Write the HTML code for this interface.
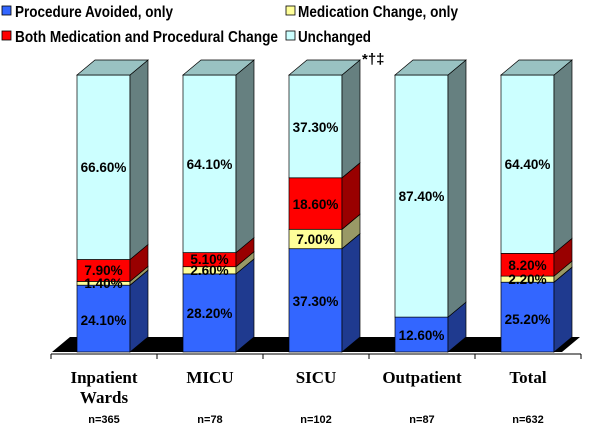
<!DOCTYPE html><html><head><style>body{margin:0;background:#fff}svg{display:block}</style></head><body>
<svg width="600" height="426" xmlns="http://www.w3.org/2000/svg" font-family="Liberation Sans, Arial, sans-serif" font-weight="bold">
<g font-size="16">
<rect x="2" y="6" width="9" height="9" fill="#3366ff" stroke="#000" stroke-width="0.8"/><text x="15" y="17" textLength="158" lengthAdjust="spacingAndGlyphs">Procedure Avoided, only</text>
<rect x="286" y="6" width="9" height="9" fill="#ffff99" stroke="#000" stroke-width="0.8"/><text x="298" y="17" textLength="160" lengthAdjust="spacingAndGlyphs">Medication Change, only</text>
<rect x="2" y="31" width="9" height="9" fill="#ff0000" stroke="#000" stroke-width="0.8"/><text x="15" y="42" textLength="263" lengthAdjust="spacingAndGlyphs">Both Medication and Procedural Change</text>
<rect x="286" y="31" width="9" height="9" fill="#ccffff" stroke="#000" stroke-width="0.8"/><text x="298" y="42" textLength="73" lengthAdjust="spacingAndGlyphs">Unchanged</text>
</g>
<text x="362" y="64" font-size="15">*†‡</text>
<polygon points="52,352 562,352 580,337 70,337" fill="#000"/>
<line x1="51" y1="354" x2="581" y2="354" stroke="#000"/>
<g stroke="#000"><line x1="51" y1="354" x2="51" y2="359"/><line x1="157" y1="354" x2="157" y2="359"/><line x1="263" y1="354" x2="263" y2="359"/><line x1="369" y1="354" x2="369" y2="359"/><line x1="475" y1="354" x2="475" y2="359"/><line x1="581" y1="354" x2="581" y2="359"/></g>
<g stroke="#000" stroke-width="0.7">
<rect x="77" y="285.2" width="53" height="66.8" fill="#3366ff"/><polygon points="130,352 148,337 148,270.2 130,285.2" fill="#1f3a8f"/>
<rect x="77" y="281.4" width="53" height="3.8" fill="#ffff99"/><polygon points="130,285.2 148,270.2 148,266.4 130,281.4" fill="#999966"/>
<rect x="77" y="259.5" width="53" height="21.9" fill="#ff0000"/><polygon points="130,281.4 148,266.4 148,244.5 130,259.5" fill="#990000"/>
<rect x="77" y="75" width="53" height="184.5" fill="#ccffff"/><polygon points="130,259.5 148,244.5 148,60 130,75" fill="#668080"/>
<polygon points="77,75 130,75 148,60 95,60" fill="#99c2c2"/>
<rect x="183" y="273.9" width="53" height="78.1" fill="#3366ff"/><polygon points="236,352 254,337 254,258.9 236,273.9" fill="#1f3a8f"/>
<rect x="183" y="266.7" width="53" height="7.2" fill="#ffff99"/><polygon points="236,273.9 254,258.9 254,251.7 236,266.7" fill="#999966"/>
<rect x="183" y="252.6" width="53" height="14.1" fill="#ff0000"/><polygon points="236,266.7 254,251.7 254,237.6 236,252.6" fill="#990000"/>
<rect x="183" y="75" width="53" height="177.6" fill="#ccffff"/><polygon points="236,252.6 254,237.6 254,60 236,75" fill="#668080"/>
<polygon points="183,75 236,75 254,60 201,60" fill="#99c2c2"/>
<rect x="289" y="248.7" width="53" height="103.3" fill="#3366ff"/><polygon points="342,352 360,337 360,233.7 342,248.7" fill="#1f3a8f"/>
<rect x="289" y="229.3" width="53" height="19.4" fill="#ffff99"/><polygon points="342,248.7 360,233.7 360,214.3 342,229.3" fill="#999966"/>
<rect x="289" y="177.8" width="53" height="51.5" fill="#ff0000"/><polygon points="342,229.3 360,214.3 360,162.8 342,177.8" fill="#990000"/>
<rect x="289" y="75" width="53" height="102.8" fill="#ccffff"/><polygon points="342,177.8 360,162.8 360,60 342,75" fill="#668080"/>
<polygon points="289,75 342,75 360,60 307,60" fill="#99c2c2"/>
<rect x="395" y="317.1" width="53" height="34.9" fill="#3366ff"/><polygon points="448,352 466,337 466,302.1 448,317.1" fill="#1f3a8f"/>
<rect x="395" y="75" width="53" height="242.1" fill="#ccffff"/><polygon points="448,317.1 466,302.1 466,60 448,75" fill="#668080"/>
<polygon points="395,75 448,75 466,60 413,60" fill="#99c2c2"/>
<rect x="501" y="282.2" width="53" height="69.8" fill="#3366ff"/><polygon points="554,352 572,337 572,267.2 554,282.2" fill="#1f3a8f"/>
<rect x="501" y="276.1" width="53" height="6.1" fill="#ffff99"/><polygon points="554,282.2 572,267.2 572,261.1 554,276.1" fill="#999966"/>
<rect x="501" y="253.4" width="53" height="22.7" fill="#ff0000"/><polygon points="554,276.1 572,261.1 572,238.4 554,253.4" fill="#990000"/>
<rect x="501" y="75" width="53" height="178.4" fill="#ccffff"/><polygon points="554,253.4 572,238.4 572,60 554,75" fill="#668080"/>
<polygon points="501,75 554,75 572,60 519,60" fill="#99c2c2"/>
</g>
<g font-size="13.5" text-anchor="middle">
<text x="103.5" y="325">24.10%</text><text x="103.5" y="288">1.40%</text><text x="103.5" y="275">7.90%</text><text x="103.5" y="172">66.60%</text>
<text x="209.5" y="318">28.20%</text><text x="209.5" y="275">2.60%</text><text x="209.5" y="264">5.10%</text><text x="209.5" y="169">64.10%</text>
<text x="315.5" y="306">37.30%</text><text x="315.5" y="244">7.00%</text><text x="315.5" y="209">18.60%</text><text x="315.5" y="132">37.30%</text>
<text x="421.5" y="340">12.60%</text><text x="421.5" y="201">87.40%</text>
<text x="527.5" y="324">25.20%</text><text x="527.5" y="284">2.20%</text><text x="527.5" y="270">8.20%</text><text x="527.5" y="169">64.40%</text>
</g>
<g font-family="Liberation Serif, Times New Roman, serif" font-size="17" text-anchor="middle">
<text x="104" y="383">Inpatient</text><text x="104" y="403">Wards</text>
<text x="210" y="383">MICU</text><text x="316" y="383">SICU</text><text x="422" y="383">Outpatient</text><text x="528" y="383">Total</text>
</g>
<g font-size="11" text-anchor="middle">
<text x="104" y="423">n=365</text><text x="210" y="423">n=78</text><text x="316" y="423">n=102</text><text x="422" y="423">n=87</text><text x="528" y="423">n=632</text>
</g>
</svg></body></html>
